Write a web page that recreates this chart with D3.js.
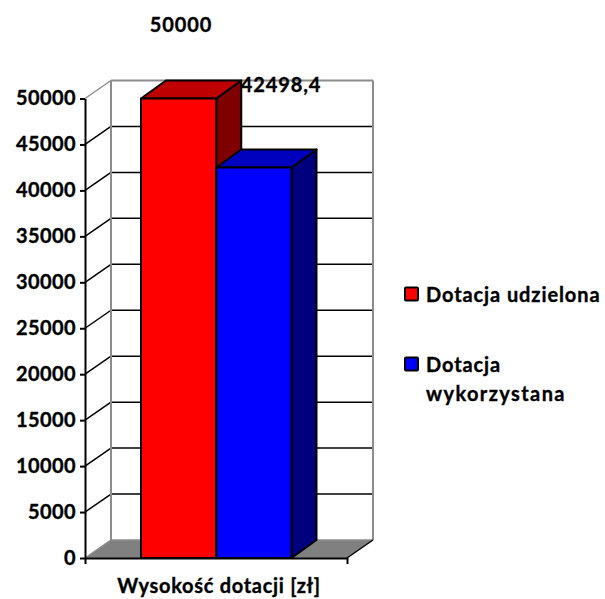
<!DOCTYPE html>
<html>
<head>
<meta charset="utf-8">
<script src="https://cdn.jsdelivr.net/npm/d3@7"></script>
<style>
  html, body { margin: 0; padding: 0; background: #fff; }
  svg { display: block; }
  text { font-family: Lato, "Open Sans", sans-serif; font-weight: 700; fill: #000; stroke: #000; stroke-width: 0.35px; }
</style>
</head>
<body>
<div id="chart"></div>
<script>
const seriesNames = ["Dotacja udzielona", "Dotacja wykorzystana"];
const seriesValues = [50000, 42498.4];
const valueLabels = ["50000", "42498,4"];
const seriesColors = ["#ff0000", "#0000ff"];
const topColors = ["#bf0000", "#0000bf"];
const sideColors = ["#7f0000", "#00007f"];
const yTicks = [0, 5000, 10000, 15000, 20000, 25000, 30000, 35000, 40000, 45000, 50000];
const categoryLabel = "Wysokość dotacji [zł]";

const width = 605, height = 599;
const depthX = 26, depthY = -18;   // 3d offset of the back wall
const fontSize = "20px", spacing = "0.9px";

const svg = d3.select("#chart").append("svg")
    .attr("width", width)
    .attr("height", height);

const x = d3.scaleLinear().domain([0, 1]).range([85, 347]);
const y = d3.scaleLinear().domain([0, 50000]).range([558, 98.5]);
const band = d3.scaleBand().domain(seriesNames).range([141, 291.5]);

const grey = "#8c8c8c";

// floor
svg.append("path")
    .attr("d", `M${x(0)},${y(0)}L${x(0) + depthX},${y(0) + depthY}L${x(1) + depthX},${y(0) + depthY}L${x(1)},${y(0)}Z`)
    .attr("fill", "#808080");

// back wall gridlines + side wall diagonals
svg.append("g").selectAll("line.grid")
    .data(yTicks)
    .enter()
    .append("line")
    .attr("class", "grid")
    .attr("x1", x(0) + depthX)
    .attr("x2", x(1) + depthX)
    .attr("y1", d => y(d) + depthY)
    .attr("y2", d => y(d) + depthY)
    .attr("stroke", d => d === 50000 || d === 0 ? grey : "#000")
    .attr("stroke-width", d => d === 50000 ? 2 : 1.5);

svg.append("g").selectAll("line.diag")
    .data(yTicks)
    .enter()
    .append("line")
    .attr("class", "diag")
    .attr("x1", x(0))
    .attr("x2", x(0) + depthX)
    .attr("y1", d => y(d))
    .attr("y2", d => y(d) + depthY)
    .attr("stroke", d => d === 50000 || d === 0 ? grey : "#000")
    .attr("stroke-width", 1.5);

// wall edges
[x(0) + depthX, x(1) + depthX].forEach(px => {
    svg.append("line")
        .attr("x1", px).attr("x2", px)
        .attr("y1", y(50000) + depthY).attr("y2", y(0) + depthY)
        .attr("stroke", grey)
        .attr("stroke-width", 2);
});
svg.append("line")
    .attr("x1", x(1)).attr("y1", y(0))
    .attr("x2", x(1) + depthX).attr("y2", y(0) + depthY)
    .attr("stroke", "#000")
    .attr("stroke-width", 1.5);

// bars, tallest first so the blue top sits against the red side
const bars = svg.append("g").selectAll("g")
    .data(seriesNames)
    .enter()
    .append("g")
    .attr("stroke", "#000")
    .attr("stroke-width", 2)
    .attr("stroke-linejoin", "round");

bars.append("path")
    .attr("d", (d, i) => {
        const r = band(d) + band.bandwidth(), t = y(seriesValues[i]);
        return `M${r},${t}L${r + depthX - 1},${t + depthY}L${r + depthX - 1},${y(0) + depthY}L${r},${y(0)}Z`;
    })
    .attr("fill", (d, i) => sideColors[i]);

bars.append("path")
    .attr("d", (d, i) => {
        const l = band(d), r = l + band.bandwidth(), t = y(seriesValues[i]);
        return `M${l},${t}L${l + depthX - 1},${t + depthY}L${r + depthX - 1},${t + depthY}L${r},${t}Z`;
    })
    .attr("fill", (d, i) => topColors[i]);

bars.append("rect")
    .attr("x", d => band(d))
    .attr("y", (d, i) => y(seriesValues[i]))
    .attr("width", band.bandwidth())
    .attr("height", (d, i) => y(0) - y(seriesValues[i]))
    .attr("fill", (d, i) => seriesColors[i]);

// value axis
const yAxis = svg.append("g")
    .attr("transform", `translate(${x(0)},0)`)
    .call(d3.axisLeft(y).tickValues(yTicks).tickFormat(d3.format("d")).tickSize(5).tickPadding(4).tickSizeOuter(0));
yAxis.selectAll("path, line").attr("stroke", "#000").attr("stroke-width", 2);
yAxis.selectAll("text")
    .style("font-size", fontSize)
    .style("letter-spacing", "0.4px")
    .style("font-family", "Lato, sans-serif")
    .style("font-weight", 700);

// category axis line
const xAxis = svg.append("g")
    .attr("transform", `translate(0,${y(0)})`)
    .call(d3.axisBottom(x).tickValues([0, 1]).tickFormat("").tickSize(6).tickSizeOuter(0));
xAxis.selectAll("path, line").attr("stroke", "#000").attr("stroke-width", 2);

svg.append("text")
    .attr("x", 219)
    .attr("y", 593)
    .attr("text-anchor", "middle")
    .style("font-size", fontSize)
    .style("letter-spacing", "0.7px")
    .text(categoryLabel);

// value labels
const labelPos = [[181, 32], [281, 92]];
svg.append("g").selectAll("text")
    .data(valueLabels)
    .enter()
    .append("text")
    .attr("x", (d, i) => labelPos[i][0])
    .attr("y", (d, i) => labelPos[i][1])
    .attr("text-anchor", "middle")
    .style("font-size", fontSize)
    .style("letter-spacing", spacing)
    .text(d => d);

// legend
const legend = svg.append("g");
legend.selectAll("rect")
    .data(seriesNames)
    .enter()
    .append("rect")
    .attr("x", 405)
    .attr("y", (d, i) => i === 0 ? 287.5 : 357.5)
    .attr("width", 13)
    .attr("height", 13)
    .attr("rx", 1)
    .attr("fill", (d, i) => seriesColors[i])
    .attr("stroke", "#000")
    .attr("stroke-width", 2);

const legendLines = [["Dotacja udzielona"], ["Dotacja", "wykorzystana"]];
legendLines.forEach((lines, i) => {
    lines.forEach((line, j) => {
        legend.append("text")
            .attr("x", 426)
            .attr("y", (i === 0 ? 302 : 372) + j * 29)
            .style("font-size", fontSize)
            .style("letter-spacing", j === 1 ? "1.4px" : spacing)
            .text(line);
    });
});
</script>
</body>
</html>
